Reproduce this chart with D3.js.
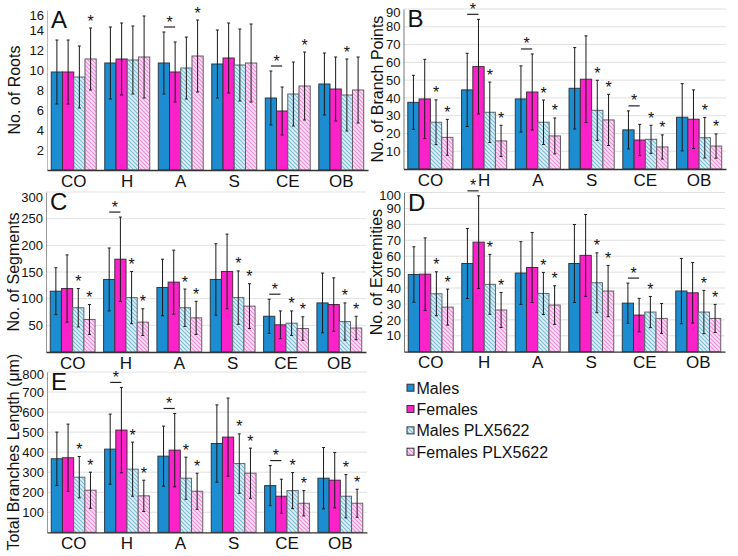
<!DOCTYPE html>
<html><head><meta charset="utf-8">
<script src="https://cdn.jsdelivr.net/npm/d3@7"></script>
<style>
body{margin:0;background:#fff}
svg{display:block}
text{font-family:"Liberation Sans",Arial,Helvetica,sans-serif;fill:#111}
</style>
</head><body>
<svg id="chart" width="738" height="556"></svg>
<script>
// ---------- DATA ----------
const categories = ["CO", "H", "A", "S", "CE", "OB"];
const seriesNames = ["Males", "Females", "Males PLX5622", "Females PLX5622"];

// each row: one category, values in series order [Males, Females, Males PLX5622, Females PLX5622]
const rootsMeans = [[9.8, 9.8, 9.3, 11.1], [10.7, 11.1, 11.0, 11.3], [10.7, 9.8, 10.2, 11.4], [10.6, 11.2, 10.5, 10.7], [7.2, 5.9, 7.6, 8.4], [8.6, 8.1, 7.5, 8.0]];
const rootsSD = [[3.2, 3.2, 3.1, 3.1], [3.6, 3.6, 3.4, 4.1], [3.1, 3.0, 3.1, 3.6], [3.4, 3.5, 3.6, 3.9], [2.7, 2.4, 3.2, 3.4], [3.1, 3.2, 3.6, 3.3]];
const rootsStars = [[0, 0, 0, 1], [0, 0, 0, 0], [0, 0, 0, 1], [0, 0, 0, 0], [0, 0, 0, 1], [0, 0, 1, 0]];
const rootsSig = ["A", "CE"];
const rootsTicks = [2, 4, 6, 8, 10, 12, 14, 16];

const branchMeans = [[37.5, 39.4, 26.3, 17.8], [44.5, 57.6, 31.9, 15.8], [39.4, 43.3, 26.3, 18.6], [45.4, 50.5, 33.0, 27.6], [22.0, 16.3, 16.7, 12.4], [29.1, 28.0, 17.6, 12.9]];
const branchSD = [[15.2, 22.3, 12.6, 10.1], [20.6, 26.6, 17.0, 8.8], [18.6, 21.4, 12.5, 10.1], [22.9, 24.4, 16.9, 14.4], [10.7, 8.8, 7.9, 6.8], [18.9, 16.5, 11.4, 6.8]];
const branchStars = [[0, 0, 1, 1], [0, 0, 1, 1], [0, 0, 1, 1], [0, 0, 1, 1], [0, 0, 1, 1], [0, 0, 1, 1]];
const branchSig = ["H", "A", "CE"];
const branchTicks = [10, 20, 30, 40, 50, 60, 70, 80, 90];

const segMeans = [[114, 119, 83, 61], [136, 174, 102, 56], [121, 131, 83, 64], [136, 151, 102, 86], [67, 51, 54, 44], [92, 89, 57, 45]];
const segSD = [[44, 63, 36, 28], [59, 79, 49, 25], [53, 60, 35, 31], [67, 70, 50, 42], [32, 26, 23, 22], [56, 50, 35, 22]];
const segStars = [[0, 0, 1, 1], [0, 0, 1, 1], [0, 0, 1, 1], [0, 0, 1, 1], [0, 0, 1, 1], [0, 0, 1, 1]];
const segSig = ["H", "CE"];
const segTicks = [50, 100, 150, 200, 250, 300];

const extMeans = [[48.5, 48.7, 36.4, 28.0], [55.4, 68.8, 42.3, 26.2], [49.4, 52.9, 36.6, 29.3], [55.4, 60.5, 43.3, 38.1], [30.5, 23.0, 24.9, 20.9], [38.1, 37.0, 24.9, 20.9]];
const extSD = [[17.4, 22.8, 13.8, 11.3], [22.0, 29.1, 18.8, 11.0], [19.7, 22.0, 13.2, 12.1], [24.5, 25.7, 18.8, 16.1], [12.6, 10.5, 9.8, 9.4], [20.5, 19.0, 13.6, 8.8]];
const extStars = [[0, 0, 1, 1], [0, 0, 1, 1], [0, 0, 1, 1], [0, 0, 1, 1], [0, 0, 1, 0], [0, 0, 1, 1]];
const extSig = ["H", "CE"];
const extTicks = [10, 20, 30, 40, 50, 60, 70, 80, 90, 100];

const lenMeans = [[367, 372, 275, 210], [415, 510, 315, 182], [380, 410, 270, 205], [443, 475, 343, 295], [233, 180, 208, 145], [270, 260, 180, 145]];
const lenSD = [[133, 168, 103, 90], [175, 213, 135, 78], [150, 183, 105, 90], [193, 195, 148, 125], [100, 85, 90, 63], [153, 138, 108, 70]];
const lenStars = [[0, 0, 1, 1], [0, 0, 1, 1], [0, 0, 1, 1], [0, 0, 1, 1], [0, 0, 1, 1], [0, 0, 1, 1]];
const lenSig = ["H", "A", "CE"];
const lenTicks = [100, 200, 300, 400, 500, 600, 700, 800];

// ---------- STYLE ----------
const fills = ["#1b8dd0", "#fb22c9", "url(#hatchBlue)", "url(#hatchPink)"];
const strokes = ["#2a3a48", "#4a2a40", "#5a6870", "#6a5a66"];

const svg = d3.select("#chart");
const defs = svg.append("defs");
function hatch(id, bg, fg) {
  const p = defs.append("pattern").attr("id", id).attr("patternUnits", "userSpaceOnUse")
    .attr("width", 4).attr("height", 4);
  p.append("rect").attr("width", 4).attr("height", 4).attr("fill", bg);
  p.append("path").attr("d", "M0,0 L4,4 M-1,3 L1,5 M3,-1 L5,1")
    .attr("stroke", fg).attr("stroke-width", 1.2);
}
hatch("hatchBlue", "#e2f2f8", "#7ebbd6");
hatch("hatchPink", "#fce4f6", "#ea8fd6");

function panel(p) {
  const x = d3.scaleBand().domain(categories).range([p.x0, p.x1]).paddingInner(0.16).paddingOuter(0.08);
  const xs = d3.scaleBand().domain(d3.range(seriesNames.length)).range([0, x.bandwidth()]);
  const y = d3.scaleLinear().domain([0, p.max]).range([p.base, p.top]);
  const g = svg.append("g");

  if (p.grid) {
    g.append("g").selectAll("line").data(p.ticks).join("line")
      .attr("x1", p.x0).attr("x2", p.x1)
      .attr("y1", d => y(d)).attr("y2", d => y(d))
      .attr("stroke", "#e0e0e0").attr("stroke-width", 1);
  }

  // y axis
  const ya = g.append("g").attr("transform", `translate(${p.x0},0)`)
    .call(d3.axisLeft(y).tickValues(p.ticks).tickSize(0).tickPadding(3));
  ya.select(".domain").attr("stroke", p.axisColor);
  ya.selectAll("text").style("font-size", "13px").style("font-family", "Liberation Sans, Arial, sans-serif").attr("fill", "#111");
  ya.selectAll(".tick").filter(d => d === p.ticks[p.ticks.length - 1]).select("text").attr("dy", (p.topShift || 0) + 4.5);

  // bars
  categories.forEach((c, i) => {
    const gx = x(c);
    p.means[i].forEach((m, j) => {
      g.append("rect")
        .attr("x", gx + xs(j)).attr("y", y(m))
        .attr("width", xs.bandwidth()).attr("height", y(0) - y(m))
        .attr("fill", fills[j]).attr("stroke", strokes[j]).attr("stroke-width", 1);
    });
  });
  // error bars and stars
  categories.forEach((c, i) => {
    const gx = x(c);
    p.means[i].forEach((m, j) => {
      const cx = gx + xs(j) + xs.bandwidth() / 2;
      const sd = p.sds[i][j];
      const yt = y(m + sd), yb = y(Math.max(0, m - sd));
      g.append("line").attr("x1", cx).attr("x2", cx).attr("y1", yt).attr("y2", yb)
        .attr("stroke", "#1a1a1a").attr("stroke-width", 1);
      [yt, yb].forEach(yy => g.append("line").attr("x1", cx - 1.5).attr("x2", cx + 1.5)
        .attr("y1", yy).attr("y2", yy).attr("stroke", "#1a1a1a").attr("stroke-width", 1));
      if (p.stars[i][j]) {
        g.append("text").attr("x", cx).attr("y", yt - 1.5).attr("text-anchor", "middle")
          .style("font-size", "16px").text("*");
      }
    });
    if (p.sig.includes(c)) {
      const c0 = gx + xs(0) + xs.bandwidth() / 2;
      const c1 = gx + xs(1) + xs.bandwidth() / 2;
      const yl = Math.min(y(p.means[i][0] + p.sds[i][0]), y(p.means[i][1] + p.sds[i][1])) - 5;
      g.append("line").attr("x1", c0).attr("x2", c1).attr("y1", yl).attr("y2", yl)
        .attr("stroke", "#222").attr("stroke-width", 1.2);
      g.append("text").attr("x", (c0 + c1) / 2).attr("y", yl + 0.5).attr("text-anchor", "middle")
        .style("font-size", "16px").text("*");
    }
  });

  // x axis
  const xa = g.append("g").attr("transform", `translate(0,${p.base})`)
    .call(d3.axisBottom(x).tickSize(0).tickPadding(4.5));
  xa.select(".domain").attr("stroke", "#333").attr("stroke-width", 1.3);
  xa.selectAll("text").style("font-size", "17px").style("font-family", "Liberation Sans, Arial, sans-serif").attr("fill", "#111");

  // panel letter
  g.append("text").attr("x", p.x0 + 4).attr("y", p.top + 18).style("font-size", "24px").text(p.letter);

  // y title
  g.append("text").attr("transform", `translate(${p.titleX},${(p.base + p.top) / 2}) rotate(-90)`)
    .attr("text-anchor", "middle").style("font-size", "16px").text(p.title);
}

panel({x0: 47, x1: 368, base: 170, top: 10, max: 16, ticks: rootsTicks, means: rootsMeans, sds: rootsSD,
  stars: rootsStars, sig: rootsSig, letter: "A", title: "No. of Roots", titleX: 20, grid: false, topShift: 5, axisColor: "#bbb"});
panel({x0: 403.5, x1: 726, base: 169, top: 9, max: 90, ticks: branchTicks, means: branchMeans, sds: branchSD,
  stars: branchStars, sig: branchSig, letter: "B", title: "No. of Branch Points", titleX: 383, grid: true, topShift: 3, axisColor: "#777"});
panel({x0: 46, x1: 366, base: 352, top: 192, max: 300, ticks: segTicks, means: segMeans, sds: segSD,
  stars: segStars, sig: segSig, letter: "C", title: "No. of Segments", titleX: 18.5, grid: true, topShift: 5, axisColor: "#999"});
panel({x0: 404, x1: 725, base: 351.7, top: 192.5, max: 100, ticks: extTicks, means: extMeans, sds: extSD,
  stars: extStars, sig: extSig, letter: "D", title: "No. of Extremities", titleX: 382, grid: true, topShift: 2, axisColor: "#777"});
panel({x0: 47, x1: 367, base: 532.3, top: 372, max: 800, ticks: lenTicks, means: lenMeans, sds: lenSD,
  stars: lenStars, sig: lenSig, letter: "E", title: "Total Branches Length (μm)", titleX: 18.5, grid: true, topShift: 2, axisColor: "#999"});

// legend
const lg = svg.append("g");
const legendY = d3.scalePoint().domain(seriesNames).range([387.7, 451.7]);
seriesNames.forEach((s, j) => {
  lg.append("rect").attr("x", 407).attr("y", legendY(s) - 3.5).attr("width", 7).attr("height", 7)
    .attr("fill", fills[j]).attr("stroke", "#333").attr("stroke-width", 1);
  lg.append("text").attr("x", 416.5).attr("y", legendY(s) + 6).style("font-size", "16px").text(s);
});
</script>
</body></html>
